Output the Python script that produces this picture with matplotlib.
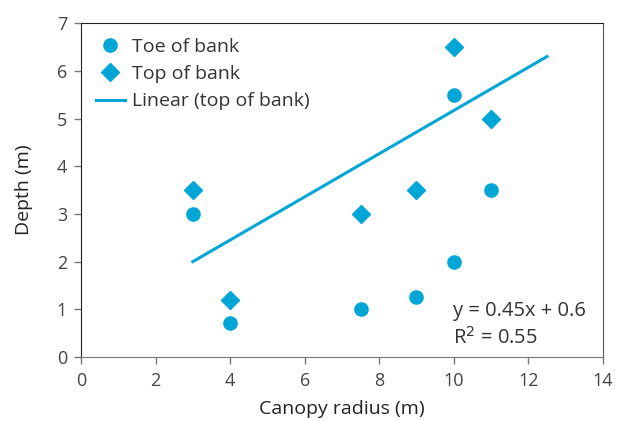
import matplotlib.pyplot as plt

plt.rcParams['font.family'] = ['Open Sans', 'DejaVu Sans']

# Toe of bank
toe_x = [3, 4, 7.5, 9, 10, 10, 11]
toe_y = [3.0, 0.72, 1.0, 1.25, 2.0, 5.5, 3.5]

# Top of bank
top_x = [3, 4, 7.5, 9, 10, 11]
top_y = [3.5, 1.2, 3.0, 3.5, 6.5, 5.0]

# Trendline endpoints (top of bank)
trend_x = [3, 12.5]
trend_y = [2.0, 6.3]

col = '#00a6d6'
txt = '#333333'

fig = plt.figure(figsize=(6.28, 4.21), dpi=100)
ax = fig.add_axes([0.129, 0.152, 0.831, 0.793])

ax.plot(toe_x, toe_y, 'o', color=col, markersize=9.5, label='Toe of bank', zorder=3)
ax.plot(top_x, top_y, 'D', color=col, markersize=9, label='Top of bank', zorder=3)
ax.plot(trend_x, trend_y, '-', color=col, lw=2.2, label='Linear (top of bank)')

ax.set_xlim(0, 14)
ax.set_ylim(0, 7)
ax.set_xticks(range(0, 15, 2))
ax.set_yticks(range(0, 8))
ax.tick_params(labelsize=13, labelcolor='#444444', color='#777777', length=5, width=1)
ax.tick_params(axis='x', pad=6)
ax.tick_params(axis='y', pad=5)
ax.spines['left'].set_color('#222222')
ax.spines['top'].set_color('#222222')
ax.spines['right'].set_color('#555555')
ax.spines['bottom'].set_color('#777777')

ax.set_xlabel('Canopy radius (m)', fontsize=14, color='#222222', labelpad=7)
ax.set_ylabel('Depth (m)', fontsize=14, color='#222222', labelpad=17)

ax.text(9.98, 0.96, 'y = 0.45x + 0.6', fontsize=14.5, color=txt, va='center')
ax.text(9.98, 0.40, 'R$^2$ = 0.55', fontsize=14.5, color=txt, va='center')

ax.legend(loc='upper left', frameon=False, fontsize=14, handlelength=1.5,
          handletextpad=0.35, borderaxespad=0.4, borderpad=0.35, labelspacing=0.48,
          labelcolor=txt)

plt.savefig('out.png', dpi=100)
